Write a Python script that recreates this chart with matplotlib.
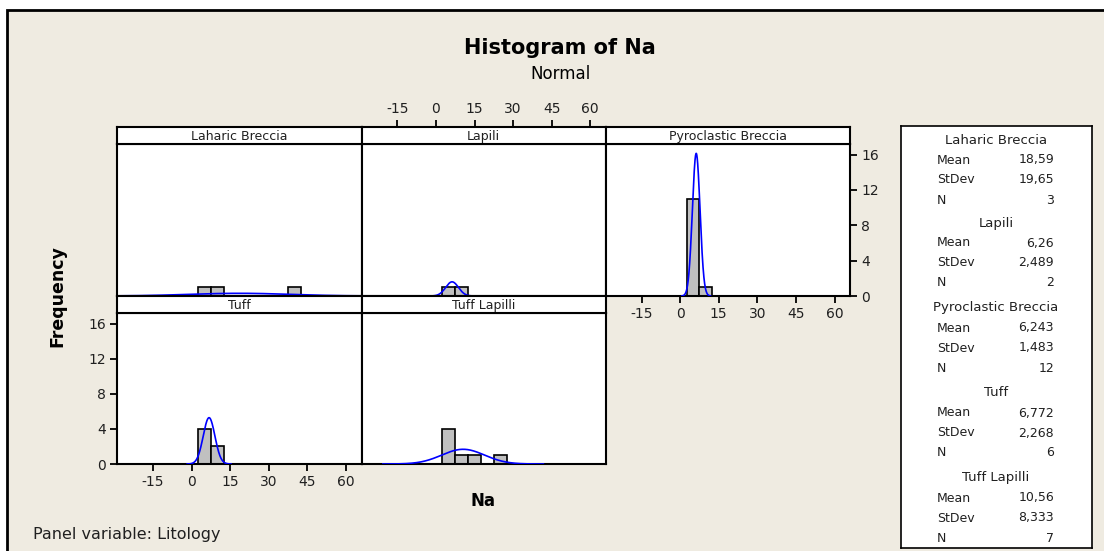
import numpy as np
import matplotlib
matplotlib.use("Agg")
from matplotlib import pyplot as plt
from matplotlib.patches import Rectangle

plt.rcParams["axes.unicode_minus"] = False

# groups of the panel variable (Litology)
groups = ["Laharic Breccia", "Lapili", "Pyroclastic Breccia", "Tuff", "Tuff Lapilli"]
means = [18.59, 6.26, 6.243, 6.772, 10.56]
stdevs = [19.65, 2.489, 1.483, 2.268, 8.333]
counts_n = [3, 2, 12, 6, 7]
mean_txt = ["18,59", "6,26", "6,243", "6,772", "10,56"]
stdev_txt = ["19,65", "2,489", "1,483", "2,268", "8,333"]

# histogram bins (width 5) : centres and counts per group
bin_width = 5
laharic_centres = [5, 10, 40]
laharic_counts = [1, 1, 1]
lapili_centres = [5, 10]
lapili_counts = [1, 1]
pyro_centres = [5, 10]
pyro_counts = [11, 1]
tuff_centres = [5, 10]
tuff_counts = [4, 2]
tufflap_centres = [5, 10, 15, 25]
tufflap_counts = [4, 1, 1, 1]

centres = [laharic_centres, lapili_centres, pyro_centres, tuff_centres, tufflap_centres]
counts = [laharic_counts, lapili_counts, pyro_counts, tuff_counts, tufflap_counts]

x_ticks = [-15, 0, 15, 30, 45, 60]
y_ticks = [0, 4, 8, 12, 16]
XLIM = (-29, 66)
YLIM = (0, 17.2)

W, H = 1104, 551
BG = "#efebe1"
TXT = "#202020"


def px(x0, y0, x1, y1):
    return [x0 / W, 1 - y1 / H, (x1 - x0) / W, (y1 - y0) / H]


fig = plt.figure(figsize=(W / 100, H / 100), dpi=100)
fig.patch.set_facecolor("white")
fig.patches.append(Rectangle((7 / W, -0.1), 1.2, 1.1 - 10 / H, transform=fig.transFigure,
                             facecolor=BG, edgecolor="black", linewidth=2, zorder=-10))

fig.text(560 / W, 1 - 48 / H, "Histogram of Na", ha="center", va="center",
         fontsize=15, fontweight="bold", family=["Liberation Sans Narrow", "DejaVu Sans"])
fig.text(560 / W, 1 - 74 / H, "Normal", ha="center", va="center",
         fontsize=12, family=["Liberation Sans Narrow", "DejaVu Sans"])

col_x = [117, 361.5, 605.5, 850]
rows = [(127, 144, 296), (296, 313, 464)]  # strip top, plot top, plot bottom

for i, g in enumerate(groups):
    r, c = divmod(i, 3)
    st, pt, pb = rows[r]
    x0, x1 = col_x[c], col_x[c + 1]
    ax = fig.add_axes(px(x0, pt, x1, pb))
    ax.set_facecolor("white")
    ax.bar(centres[i], counts[i], width=bin_width, color="#c0c0c0",
           edgecolor="black", linewidth=1.2, zorder=2)
    xs = np.linspace(means[i] - 3.75 * stdevs[i], means[i] + 3.75 * stdevs[i], 300)
    dens = counts_n[i] * bin_width * np.exp(-0.5 * ((xs - means[i]) / stdevs[i]) ** 2) \
        / (stdevs[i] * np.sqrt(2 * np.pi))
    ax.plot(xs, dens, color="#0000ff", linewidth=1.2, zorder=3)
    ax.set_xlim(*XLIM)
    ax.set_ylim(*YLIM)
    for s in ax.spines.values():
        s.set_linewidth(1.5)
    ax.tick_params(direction="out", length=5, width=1.3, labelsize=10,
                   labelcolor=TXT, pad=3)
    ax.set_xticks(x_ticks)
    ax.set_yticks(y_ticks)
    ax.tick_params(bottom=False, labelbottom=False, left=False, labelleft=False)
    if g == "Tuff" or g == "Pyroclastic Breccia":
        ax.tick_params(bottom=True, labelbottom=True)
    if g == "Tuff":
        ax.tick_params(left=True, labelleft=True)
    if g == "Pyroclastic Breccia":
        ax.tick_params(right=True, labelright=True)

    # strip header
    sax = fig.add_axes(px(x0, st, x1, pt))
    sax.set_facecolor("white")
    sax.set_xlim(*XLIM)
    sax.set_xticks([])
    sax.set_yticks([])
    for s in sax.spines.values():
        s.set_linewidth(1.5)
    if g == "Lapili":
        sax.set_xticks(x_ticks)
        sax.tick_params(bottom=False, labelbottom=False, top=True, labeltop=True,
                        direction="out", length=5, width=1.3, labelsize=10,
                        labelcolor=TXT, pad=3)
    sax.text(0.5, 0.45, g, ha="center", va="center", fontsize=9, color=TXT,
             transform=sax.transAxes)

fig.text(57 / W, 1 - 296 / H, "Frequency", rotation=90, ha="center", va="center",
         fontsize=12.5, fontweight="bold", family=["Liberation Sans Narrow", "DejaVu Sans"])
fig.text(483 / W, 1 - 501 / H, "Na", ha="center", va="center",
         fontsize=12, fontweight="bold")
fig.text(33 / W, 1 - 535 / H, "Panel variable: Litology", ha="left", va="center",
         fontsize=11.5, color=TXT)

# legend box
lax = fig.add_axes(px(901, 126, 1092, 548))
lax.set_facecolor("white")
lax.set_xticks([])
lax.set_yticks([])
for s in lax.spines.values():
    s.set_linewidth(1.2)

group_y = [140, 223, 308, 393, 478]
for i, g in enumerate(groups):
    y = group_y[i]
    fig.text(996 / W, 1 - y / H, g, ha="center", va="center", fontsize=9.5, color=TXT)
    rows_txt = [("Mean", mean_txt[i]), ("StDev", stdev_txt[i]), ("N", str(counts_n[i]))]
    for k, (lab, val) in enumerate(rows_txt):
        yy = y + 20 * (k + 1)
        fig.text(937 / W, 1 - yy / H, lab, ha="left", va="center", fontsize=9, color=TXT)
        fig.text(1054 / W, 1 - yy / H, val, ha="right", va="center", fontsize=9, color=TXT)

fig.savefig("out.png", dpi=100, facecolor=fig.get_facecolor())
